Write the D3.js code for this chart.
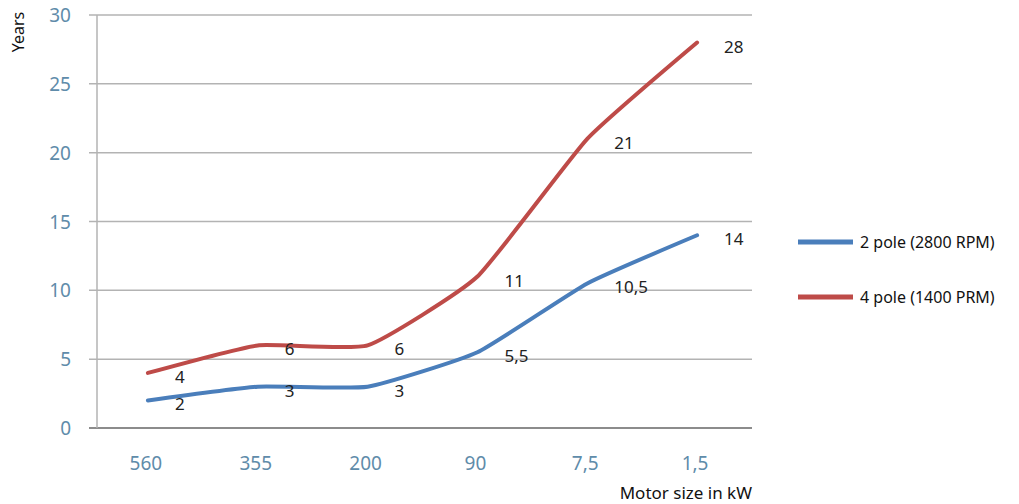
<!DOCTYPE html>
<html>
<head>
<meta charset="utf-8">
<script src="https://cdn.jsdelivr.net/npm/d3@7"></script>
<style>
  body { margin: 0; background: #fff; }
  svg { font-family: "Noto Sans", "Open Sans", sans-serif; }
</style>
</head>
<body>
<div id="drawing_region"></div>
<script>
// Data
const categories = ['560', '355', '200', '90', '7,5', '1,5'];
const pole2 = [2, 3, 3, 5.5, 10.5, 14];
const pole4 = [4, 6, 6, 11, 21, 28];
const seriesNames = ['2 pole (2800 RPM)', '4 pole (1400 PRM)'];
const yTicks = [0, 5, 10, 15, 20, 25, 30];

const config = {
    width: 1019,
    height: 504,
    left: 93, right: 752, top: 15, bottom: 428,
    axisX: 97
};

const colors = ['#4a7ebb', '#be4b48'];
const tickColor = '#5f8caa';

const svg = d3.select('#drawing_region')
    .append('svg')
    .attr('width', config.width)
    .attr('height', config.height);

const xscale = d3.scalePoint()
    .domain(categories)
    .range([config.left, config.right])
    .padding(0.5);

const yscale = d3.scaleLinear()
    .domain([0, 30])
    .range([config.bottom, config.top]);

// gridlines
svg.append('g')
    .selectAll('line')
    .data(yTicks)
    .join('line')
    .attr('x1', config.axisX - 8)
    .attr('x2', config.right)
    .attr('y1', d => yscale(d))
    .attr('y2', d => yscale(d))
    .attr('stroke', d => d === 0 ? '#8c8c8c' : '#b3b3b3')
    .attr('stroke-width', d => d === 0 ? 2 : 1.5);

// left axis line
svg.append('line')
    .attr('x1', config.axisX).attr('x2', config.axisX)
    .attr('y1', yscale(30)).attr('y2', yscale(0))
    .attr('stroke', '#b3b3b3')
    .attr('stroke-width', 1.5);

// y tick labels
svg.append('g')
    .selectAll('text')
    .data(yTicks)
    .join('text')
    .attr('x', 71)
    .attr('y', d => yscale(d) + 7)
    .attr('text-anchor', 'end')
    .attr('fill', tickColor)
    .attr('font-size', 19)
    .text(d => d);

// x tick labels
svg.append('g')
    .selectAll('text')
    .data(categories)
    .join('text')
    .attr('x', d => xscale(d) - 2)
    .attr('y', 470)
    .attr('text-anchor', 'middle')
    .attr('fill', tickColor)
    .attr('font-size', 19)
    .text(d => d);

// axis titles
svg.append('text')
    .attr('transform', 'translate(24, 32) rotate(-90)')
    .attr('text-anchor', 'middle')
    .attr('font-size', 16)
    .attr('fill', '#111')
    .text('Years');

svg.append('text')
    .attr('x', config.right)
    .attr('y', 499)
    .attr('text-anchor', 'end')
    .attr('font-size', 17)
    .attr('fill', '#111')
    .text('Motor size in kW');

// lines
const series = [pole2, pole4];
const line = d3.line()
    .x((d, i) => xscale(categories[i]))
    .y(d => yscale(d))
    .curve(d3.curveCardinal.tension(0.55));

svg.append('g')
    .selectAll('path')
    .data(series)
    .join('path')
    .attr('d', d => line(d))
    .attr('fill', 'none')
    .attr('stroke', (d, i) => colors[i])
    .attr('stroke-width', 4)
    .attr('stroke-linecap', 'round');

// data labels
series.forEach(s => {
    svg.append('g')
        .selectAll('text')
        .data(s)
        .join('text')
        .attr('x', (d, i) => xscale(categories[i]) + 27)
        .attr('y', d => yscale(d) + 10)
        .attr('font-size', 17)
        .attr('fill', '#222')
        .text(d => String(d).replace('.', ','));
});

// legend
const legend = svg.append('g')
    .selectAll('g')
    .data(seriesNames)
    .join('g')
    .attr('transform', (d, i) => `translate(798, ${242 + i * 55})`);

legend.append('line')
    .attr('x1', 0).attr('x2', 55)
    .attr('stroke', (d, i) => colors[i])
    .attr('stroke-width', 5);

legend.append('text')
    .attr('x', 62)
    .attr('y', 6)
    .attr('font-size', 16)
    .attr('fill', '#111')
    .text(d => d);
</script>
</body>
</html>
